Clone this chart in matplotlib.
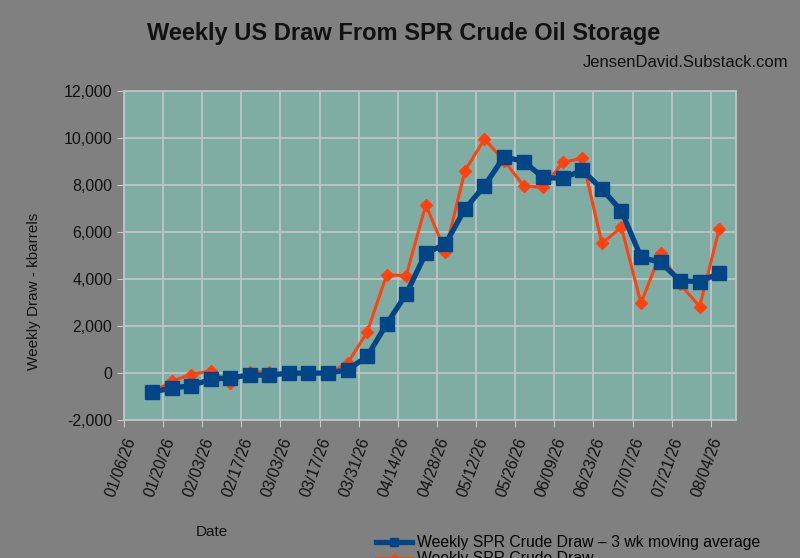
import datetime as dt
import matplotlib
matplotlib.use("Agg")
import matplotlib.pyplot as plt
import matplotlib.dates as mdates
from matplotlib.ticker import FuncFormatter

plt.rcParams['font.family'] = ['Liberation Sans', 'DejaVu Sans']

# weekly dates (Fridays) and values, kbarrels
week_ending = ["01/16/26", "01/23/26", "01/30/26", "02/06/26", "02/13/26", "02/20/26",
               "02/27/26", "03/06/26", "03/13/26", "03/20/26", "03/27/26", "04/03/26",
               "04/10/26", "04/17/26", "04/24/26", "05/01/26", "05/08/26", "05/15/26",
               "05/22/26", "05/29/26", "06/05/26", "06/12/26", "06/19/26", "06/26/26",
               "07/03/26", "07/10/26", "07/17/26", "07/24/26", "07/31/26", "08/07/26"]
moving_avg = [-800, -640, -530, -270, -190, -85, -85, 0, 0, 0, 140, 710,
              2090, 3370, 5100, 5490, 6980, 7970, 9200, 9000, 8320, 8280,
              8630, 7830, 6900, 4930, 4710, 3930, 3890, 4250]
weekly_draw = [-850, -340, -60, 100, -400, 50, 50, -50, 30, -30, 420, 1740,
               4180, 4150, 7160, 5170, 8610, 9950, 9040, 7970, 7900, 8960,
               9140, 5520, 6200, 2970, 5110, 3790, 2830, 6130]

dates = [dt.datetime.strptime(d, "%m/%d/%y") for d in week_ending]

bg_grey = "#808080"
plot_bg = "#7fada4"
grid_col = "#bcc6c4"

fig = plt.figure(figsize=(8, 5.58), dpi=100, facecolor=bg_grey)
ax = fig.add_axes([0.155, 0.247, 0.765, 0.590])
ax.set_facecolor(plot_bg)

ax.plot(dates, moving_avg, color="#004586", lw=3.8, marker="s", ms=10.5,
        label="Weekly SPR Crude Draw \u2013 3 wk moving average", zorder=3)
ax.plot(dates, weekly_draw, color="#ff420e", lw=2.2, marker="D", ms=6.5,
        label="Weekly SPR Crude Draw", zorder=2)

ax.set_ylim(-2000, 12000)
ax.set_yticks(range(-2000, 12001, 2000))
ax.yaxis.set_major_formatter(FuncFormatter(lambda v, p: f"{v:,.0f}"))

# two-week ticks starting 01/06/26
ax.set_xlim(dt.datetime(2026, 1, 6), dt.datetime(2026, 8, 13))
ticks = [dt.datetime(2026, 1, 6) + dt.timedelta(days=14 * k) for k in range(16)]
ax.set_xticks(ticks)
ax.xaxis.set_major_formatter(mdates.DateFormatter("%m/%d/%y"))
for lab in ax.get_xticklabels():
    lab.set_rotation(70)
    lab.set_ha("right")
    lab.set_rotation_mode("anchor")

ax.grid(True, color=grid_col, lw=1.3)
ax.set_axisbelow(True)
for s in ax.spines.values():
    s.set_color(grid_col)
    s.set_linewidth(1.3)
ax.tick_params(colors="#c8c8c8", labelcolor="#111111", labelsize=11.5, length=5)
ax.tick_params(axis="x", pad=6)

fig.text(0.505, 0.94, "Weekly US Draw From SPR Crude Oil Storage",
         ha="center", va="center", fontsize=17, fontweight="bold", color="#111111")
fig.text(0.985, 0.888, "JensenDavid.Substack.com", ha="right", va="center",
         fontsize=12, color="#111111")
fig.text(0.042, 0.477, "Weekly Draw - kbarrels", rotation=90, ha="center",
         va="center", fontsize=11, color="#111111")
fig.text(0.265, 0.046, "Date", ha="center", va="center", fontsize=11, color="#111111")

# legend sits at the bottom edge; second entry is partly cut, as in the original
fig.legend(loc="upper left", bbox_to_anchor=(0.462, 0.052), frameon=False,
           fontsize=11.3, handlelength=2.3, handletextpad=0.3, labelspacing=0.05,
           borderaxespad=0, markerscale=0.6)

fig.savefig("out.png", dpi=100, facecolor=bg_grey)
